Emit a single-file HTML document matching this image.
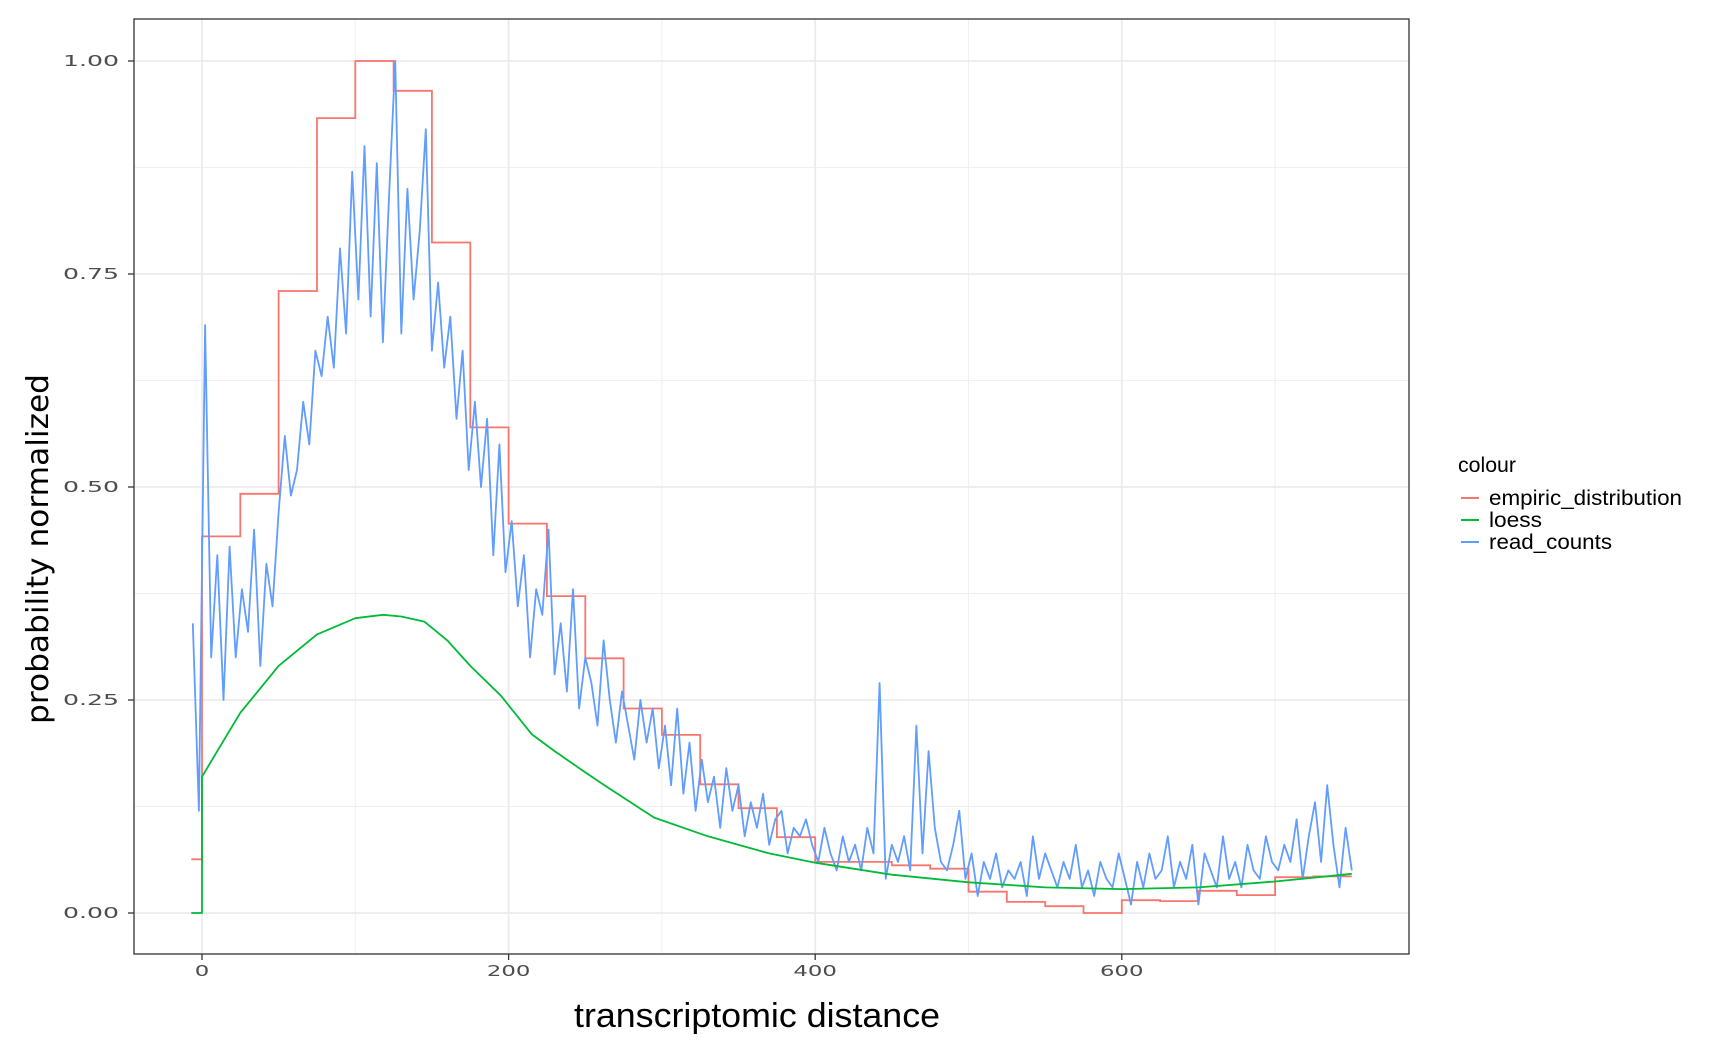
<!DOCTYPE html>
<html><head><meta charset="utf-8"><style>
html,body{margin:0;padding:0;background:#fff;}
svg{display:block;}
</style></head><body>
<svg id="chart" width="1713" height="1049" xmlns="http://www.w3.org/2000/svg">
<rect x="0" y="0" width="1713" height="1049" fill="#fff"/>
<g id="grid"></g>
<g id="series"></g>
<rect x="134" y="19" width="1275" height="935" fill="none" stroke="#333" stroke-width="1.3"/>
<g id="axes"></g>
<text x="757" y="1027" text-anchor="middle" font-family="'Liberation Sans Narrow','Liberation Sans',sans-serif" font-size="34" textLength="366" lengthAdjust="spacingAndGlyphs" fill="#000">transcriptomic distance</text>
<text transform="translate(48,549) rotate(-90)" text-anchor="middle" font-family="'DejaVu Sans',sans-serif" font-size="30" textLength="350" lengthAdjust="spacingAndGlyphs" fill="#000">probability normalized</text>
<g font-family="'Liberation Sans Narrow','Liberation Sans',sans-serif" fill="#000">
<text x="1458" y="472" font-size="21" textLength="58" lengthAdjust="spacingAndGlyphs">colour</text>
<line x1="1461" y1="498" x2="1479" y2="498" stroke="#F8766D" stroke-width="2"/>
<text x="1489" y="505" font-size="21" textLength="193" lengthAdjust="spacingAndGlyphs">empiric_distribution</text>
<line x1="1461" y1="520" x2="1479" y2="520" stroke="#00BA38" stroke-width="2"/>
<text x="1489" y="527" font-size="21" textLength="53" lengthAdjust="spacingAndGlyphs">loess</text>
<line x1="1461" y1="542" x2="1479" y2="542" stroke="#619CFF" stroke-width="2"/>
<text x="1489" y="549" font-size="21" textLength="123" lengthAdjust="spacingAndGlyphs">read_counts</text>
</g>
</svg>
<script>
const xTicks = [0, 200, 400, 600];
const yTicks = [0, 0.25, 0.5, 0.75, 1.0];
const yTickLabels = ["0.00", "0.25", "0.50", "0.75", "1.00"];
const stepStarts = [-7, 0, 25, 50, 75, 100, 125, 150, 175, 200, 225, 250, 275, 300, 325, 350, 375, 400, 425, 450, 475, 500, 525, 550, 575, 600, 625, 650, 675, 700, 725];
const stepValues = [0.063, 0.442, 0.492, 0.73, 0.933, 1.0, 0.965, 0.787, 0.57, 0.457, 0.372, 0.299, 0.24, 0.209, 0.151, 0.123, 0.089, 0.060, 0.060, 0.056, 0.052, 0.025, 0.013, 0.008, 0.0, 0.015, 0.014, 0.026, 0.021, 0.042, 0.043];
const stepEnd = 750;
const loessX = [-7, 0, 0.01, 10, 25, 50, 75, 100, 118, 130, 145, 160, 175, 195, 215, 230, 250, 265, 295, 330, 370, 400, 450, 500, 550, 600, 650, 700, 750];
const loessY = [0, 0, 0.16, 0.19, 0.235, 0.29, 0.327, 0.346, 0.35, 0.348, 0.342, 0.32, 0.29, 0.255, 0.21, 0.19, 0.165, 0.147, 0.112, 0.09, 0.07, 0.059, 0.045, 0.036, 0.03, 0.028, 0.03, 0.037, 0.046];
const readStart = -6;
const readStep = 4;
const readValues = [
0.34,0.12,0.69,0.30,0.42,0.25,0.43,0.30,0.38,0.33,0.45,0.29,0.41,0.36,0.47,0.56,0.49,0.52,0.60,0.55,0.66,0.63,0.70,0.64,0.78,0.68,
0.87,0.72,0.90,0.70,0.88,0.67,0.84,1.0,0.68,0.85,0.72,0.80,0.92,0.66,0.74,0.64,0.70,0.58,0.66,0.52,0.60,0.50,0.58,0.42,0.55,0.40,
0.46,0.36,0.42,0.30,0.38,0.35,0.45,0.28,0.34,0.26,0.38,0.24,0.30,0.27,0.22,0.32,0.25,0.20,0.26,0.22,0.18,0.25,0.20,0.24,0.17,
0.22,0.15,0.24,0.14,0.20,0.12,0.18,0.13,0.16,0.10,0.17,0.12,0.15,0.09,0.13,0.10,0.14,0.08,0.11,0.12,0.07,0.10,0.09,0.11,0.08,
0.06,0.10,0.07,0.05,0.09,0.06,0.08,0.05,0.10,0.07,0.27,0.04,0.08,0.06,0.09,0.05,0.22,0.07,0.19,0.10,0.06,0.05,0.08,0.12,0.04,
0.07,0.02,0.06,0.04,0.07,0.03,0.05,0.04,0.06,0.02,0.09,0.04,0.07,0.05,0.03,0.06,0.04,0.08,0.03,0.05,0.02,0.06,0.04,0.03,0.07,
0.04,0.01,0.06,0.03,0.07,0.04,0.05,0.09,0.03,0.06,0.04,0.08,0.01,0.07,0.05,0.03,0.09,0.04,0.06,0.03,0.08,0.05,0.04,0.09,0.06,
0.05,0.08,0.06,0.11,0.04,0.09,0.13,0.06,0.15,0.08,0.03,0.10,0.05];

const NS = "http://www.w3.org/2000/svg";
function sx(v){ return 202 + v * 1.533; }
function sy(v){ return 913 - v * 852; }
function mk(tag, attrs, parent){
  const e = document.createElementNS(NS, tag);
  for (const k in attrs) e.setAttribute(k, attrs[k]);
  parent.appendChild(e);
  return e;
}
const grid = document.getElementById('grid');
const axes = document.getElementById('axes');
const series = document.getElementById('series');
const R = 1409;

for (let i = 0; i < yTicks.length - 1; i++) {
  const v = (yTicks[i] + yTicks[i+1]) / 2;
  const l = mk('line', {x1:134, x2:R, y1:sy(v), y2:sy(v), stroke:'#f0f0f0', 'stroke-width':1}, grid);
  
  
}
for (let i = 0; i < xTicks.length; i++) {
  const v = xTicks[i] + 100;
  const l = mk('line', {x1:sx(v), x2:sx(v), y1:19, y2:954, stroke:'#f0f0f0', 'stroke-width':1}, grid);
  
  
}
yTicks.forEach((v, i) => {
  const l = mk('line', {x1:134, x2:R, y1:sy(v), y2:sy(v), stroke:'#ebebeb', 'stroke-width':1.8}, grid);
  
  
  const t = mk('line', {x1:128, x2:134, y1:sy(v), y2:sy(v), stroke:'#333', 'stroke-width':1.3}, axes);
  
  
  const tx = mk('text', {x:119, y:sy(v)+5, 'text-anchor':'end', 'font-family':"'DejaVu Sans',sans-serif", 'font-size':15, textLength:56, lengthAdjust:'spacingAndGlyphs', fill:'#4d4d4d'}, axes);
  tx.textContent = yTickLabels[i];
  
  
});
xTicks.forEach(v => {
  const l = mk('line', {x1:sx(v), x2:sx(v), y1:19, y2:954, stroke:'#ebebeb', 'stroke-width':1.8}, grid);
  
  
  const t = mk('line', {x1:sx(v), x2:sx(v), y1:954, y2:960, stroke:'#333', 'stroke-width':1.3}, axes);
  
  
  const s = String(v);
  const tx = mk('text', {x:sx(v), y:976, 'text-anchor':'middle', 'font-family':"'DejaVu Sans',sans-serif", 'font-size':15, textLength:s.length * 14.5, lengthAdjust:'spacingAndGlyphs', fill:'#4d4d4d'}, axes);
  tx.textContent = s;
  
  
});

let d = '';
stepStarts.forEach((x0, i) => {
  const x1 = i + 1 < stepStarts.length ? stepStarts[i+1] : stepEnd;
  d += (i === 0 ? 'M' : 'L') + sx(x0).toFixed(1) + ',' + sy(stepValues[i]).toFixed(1) + 'L' + sx(x1).toFixed(1) + ',' + sy(stepValues[i]).toFixed(1);
});
const emp = mk('path', {d:d, fill:'none', stroke:'#F8766D', 'stroke-width':1.8}, series);



let d2 = '';
readValues.forEach((v, i) => {
  d2 += (i === 0 ? 'M' : 'L') + sx(readStart + i * readStep).toFixed(1) + ',' + sy(v).toFixed(1);
});
const rc = mk('path', {d:d2, fill:'none', stroke:'#619CFF', 'stroke-width':1.8, 'stroke-linejoin':'round'}, series);



let d3 = '';
loessX.forEach((x, i) => {
  d3 += (i === 0 ? 'M' : 'L') + sx(x).toFixed(1) + ',' + sy(loessY[i]).toFixed(1);
});
const lo = mk('path', {d:d3, fill:'none', stroke:'#00BA38', 'stroke-width':1.8, 'stroke-linejoin':'round'}, series);


</script>
</body></html>
